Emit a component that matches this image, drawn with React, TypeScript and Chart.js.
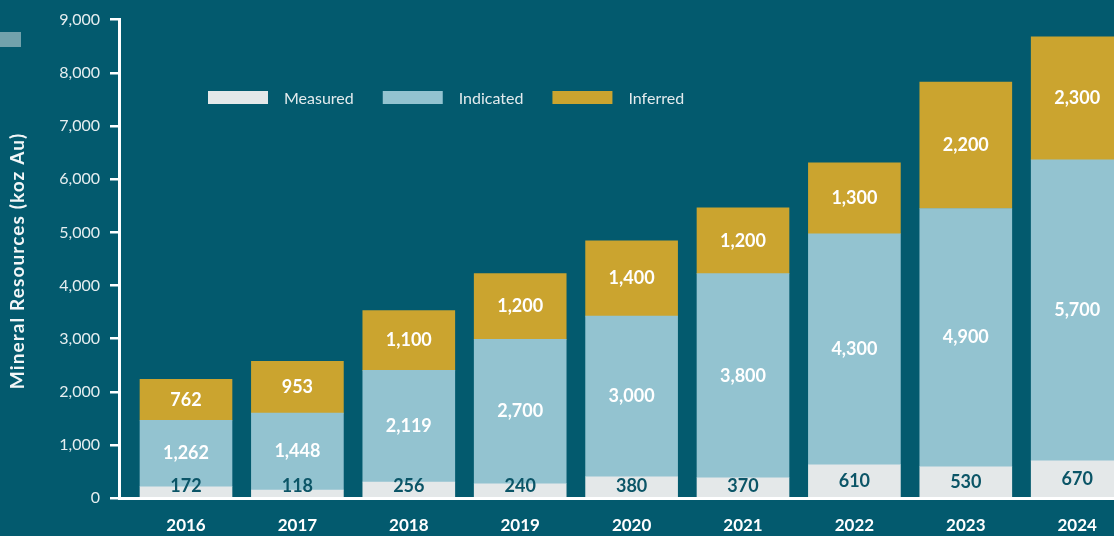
import React, { useEffect, useRef } from "react";
import { Chart, registerables } from "chart.js";

Chart.register(...registerables);

// ---- data ----
const years = ["2016", "2017", "2018", "2019", "2020", "2021", "2022", "2023", "2024"];
// bar heights (koz Au)
const measured = [217, 156, 306, 274, 405, 386, 630, 593, 705];
const indicated = [1250, 1444, 2100, 2713, 3019, 3838, 4344, 4856, 5657];
const inferred = [769, 975, 1125, 1238, 1419, 1238, 1331, 2375, 2312];
// value labels printed on the bars
const measuredLabels = ["172", "118", "256", "240", "380", "370", "610", "530", "670"];
const indicatedLabels = ["1,262", "1,448", "2,119", "2,700", "3,000", "3,800", "4,300", "4,900", "5,700"];
const inferredLabels = ["762", "953", "1,100", "1,200", "1,400", "1,200", "1,300", "2,200", "2,300"];
const yTicks = [0, 1000, 2000, 3000, 4000, 5000, 6000, 7000, 8000, 9000];
const yTitle = "Mineral Resources (koz Au)";

const BG = "#035A6E";
const C_MEASURED = "#E4E8E9";
const C_INDICATED = "#93C3D0";
const C_INFERRED = "#CBA42F";
const FONT = "Lato, 'Open Sans', sans-serif";

const labelSets = [measuredLabels, indicatedLabels, inferredLabels];
const labelColors = ["#0B5567", "#FFFFFF", "#FFFFFF"];

const valueLabelPlugin = {
  id: "valueLabels",
  afterDatasetsDraw(chart: any) {
    const ctx = chart.ctx;
    ctx.save();
    ctx.font = `bold 18px ${FONT}`;
    ctx.textAlign = "center";
    ctx.textBaseline = "middle";
    chart.data.datasets.forEach((_ds: any, di: number) => {
      const meta = chart.getDatasetMeta(di);
      meta.data.forEach((bar: any, i: number) => {
        const { x, y, base } = bar.getProps(["x", "y", "base"], true);
        let cy = (y + base) / 2;
        if (di === 0) cy = Math.min(cy, base - 10.5);
        ctx.fillStyle = labelColors[di];
        ctx.fillText(labelSets[di][i], x, cy);
      });
    });
    ctx.restore();
  },
};

const legendPlugin = {
  id: "customLegend",
  afterDraw(chart: any) {
    const ctx = chart.ctx;
    ctx.save();
    ctx.font = `16px ${FONT}`;
    ctx.textBaseline = "middle";
    ctx.textAlign = "left";
    let x = 208;
    const yc = 97.5;
    chart.data.datasets.forEach((ds: any) => {
      ctx.fillStyle = ds.backgroundColor;
      ctx.fillRect(x, yc - 6.5, 60, 13);
      x += 60 + 16;
      ctx.fillStyle = "#E3EBED";
      ctx.fillText(ds.label, x, yc + 1);
      x += ctx.measureText(ds.label).width + 29;
    });
    ctx.restore();
  },
};

const yTitlePlugin = {
  id: "yTitle",
  afterDraw(chart: any) {
    const ctx = chart.ctx;
    const area = chart.chartArea;
    ctx.save();
    ctx.translate(18, (area.top + area.bottom) / 2 + 2);
    ctx.rotate(-Math.PI / 2);
    ctx.font = `bold 19px ${FONT}`;
    try {
      (ctx as any).letterSpacing = "1.1px";
    } catch (e) {}
    ctx.textAlign = "center";
    ctx.textBaseline = "middle";
    ctx.fillStyle = "#F2F6F7";
    ctx.fillText(yTitle, 0, 0);
    ctx.restore();
  },
};

export default function App() {
  const canvasRef = useRef<HTMLCanvasElement | null>(null);

  useEffect(() => {
    if (!canvasRef.current) return;
    const chart = new Chart(canvasRef.current, {
      type: "bar",
      data: {
        labels: years,
        datasets: [
          { label: "Measured", data: measured, backgroundColor: C_MEASURED },
          { label: "Indicated", data: indicated, backgroundColor: C_INDICATED },
          { label: "Inferred", data: inferred, backgroundColor: C_INFERRED },
        ],
      },
      options: {
        animation: false,
        responsive: false,
        devicePixelRatio: 1,
        barThickness: 92,
        layout: { padding: { top: 18, left: 0, right: 0, bottom: 0 } },
        plugins: {
          legend: { display: false },
          tooltip: { enabled: false },
        },
        scales: {
          x: {
            type: "linear",
            stacked: true,
            offset: false,
            min: 2016 - 0.6014,
            max: 2016 + (1114 - 186) / 111.4,
            afterBuildTicks: (scale: any) => {
              scale.ticks = years.map((y) => ({ value: Number(y) }));
            },
            afterFit: (scale: any) => {
              scale.height = 37.7;
            },
            grid: { display: false, drawTicks: false, offset: false },
            border: { display: true, color: "#FFFFFF", width: 3, z: 1 },
            ticks: {
              autoSkip: false,
              maxRotation: 0,
              padding: 17,
              color: "#FFFFFF",
              font: { family: FONT, size: 17, weight: "bold" },
              callback: (v: any) => String(v),
            },
          },
          y: {
            stacked: true,
            min: 0,
            max: 9000,
            afterBuildTicks: (scale: any) => {
              scale.ticks = yTicks.map((v) => ({ value: v }));
            },
            afterFit: (scale: any) => {
              scale.width = 119;
            },
            grid: {
              display: true,
              drawOnChartArea: false,
              drawTicks: true,
              tickLength: 9,
              color: "#FFFFFF",
              lineWidth: 2.5,
            },
            border: { display: true, color: "#FFFFFF", width: 3, z: 1 },
            ticks: {
              padding: 10,
              color: "#E6EEF0",
              font: { family: FONT, size: 16 },
              callback: (v: any) => Number(v).toLocaleString("en-US"),
            },
          },
        },
      } as any,
      plugins: [valueLabelPlugin, legendPlugin, yTitlePlugin],
    });
    return () => chart.destroy();
  }, []);

  return (
    <div
      style={{
        position: "fixed",
        left: 0,
        top: 0,
        width: 1114,
        height: 536,
        background: BG,
        overflow: "hidden",
      }}
    >
      <div
        style={{
          position: "absolute",
          left: 0,
          top: 32,
          width: 21,
          height: 15,
          background: "#72A2AC",
        }}
      />
      <canvas
        ref={canvasRef}
        width={1114}
        height={536}
        style={{ position: "absolute", left: 0, top: 0, display: "block" }}
      />
    </div>
  );
}
